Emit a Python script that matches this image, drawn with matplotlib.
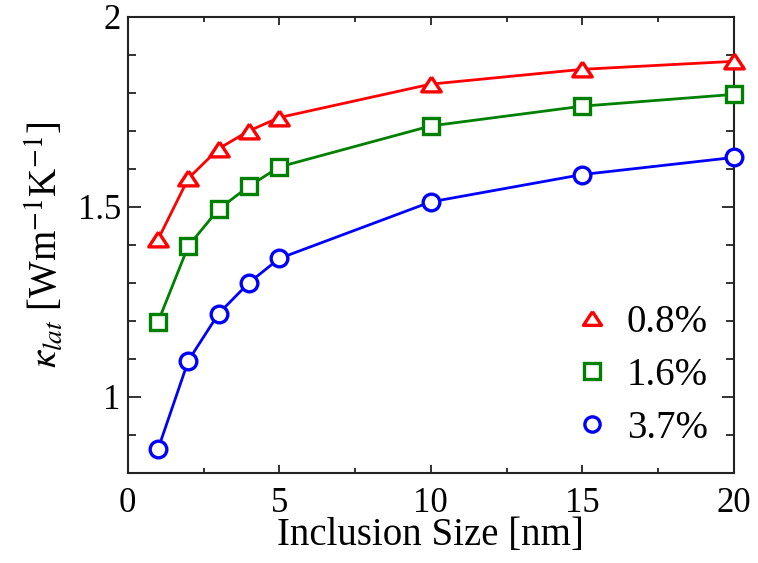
import matplotlib
matplotlib.use('Agg')
from matplotlib import pyplot as plt
from matplotlib.lines import Line2D
from matplotlib.ticker import MultipleLocator, FixedLocator, FixedFormatter

# inclusion size [nm] and lattice thermal conductivity for each volume fraction
size_nm = [1, 2, 3, 4, 5, 10, 15, 20]
kappa_08 = [1.414, 1.575, 1.653, 1.700, 1.735, 1.823, 1.862, 1.883]
kappa_16 = [1.197, 1.397, 1.494, 1.554, 1.605, 1.713, 1.765, 1.796]
kappa_37 = [0.862, 1.095, 1.219, 1.300, 1.364, 1.513, 1.585, 1.630]

labels = ['0.8%', '1.6%', '3.7%']
yticks = [1.0, 1.5, 2.0]
yticklabels = ['1', '1.5', '2']
xticks = [0, 5, 10, 15, 20]
xticklabels = ['0', '5', '10', '15', '20']

plt.rcParams['font.family'] = ['Liberation Serif', 'DejaVu Serif']
plt.rcParams['mathtext.fontset'] = 'stix'

# slightly flattened triangle
tri = [(0, 0.76), (-1, -0.76), (1, -0.76), (0, 0.76)]

styles = [
    dict(color='red', marker=tri, ms=14),
    dict(color='green', marker='s', ms=12),
    dict(color='blue', marker='o', ms=12),
]

fig = plt.figure(figsize=(7.58, 5.63), dpi=100)
ax = fig.add_axes([0.1685, 0.1604, 0.9683 - 0.1685, 0.970 - 0.1604])

for ys, st in zip([kappa_08, kappa_16, kappa_37], styles):
    ax.plot(size_nm, ys, color=st['color'], lw=2.0, marker=st['marker'],
            ms=st['ms'], mfc='white', mec=st['color'], mew=2.4, zorder=3,
            clip_on=False)

ax.set_xlim(0, 20)
ax.set_ylim(0.8, 2.0)

ax.xaxis.set_major_locator(FixedLocator(xticks))
ax.xaxis.set_major_formatter(FixedFormatter(xticklabels))
ax.xaxis.set_minor_locator(MultipleLocator(2.5))
ax.yaxis.set_major_locator(FixedLocator(yticks))
ax.yaxis.set_major_formatter(FixedFormatter(yticklabels))
ax.yaxis.set_minor_locator(MultipleLocator(0.1))

ax.tick_params(which='both', direction='in', top=True, right=True,
               labelsize=25, width=1.3, color='#222222')
ax.tick_params(axis='x', which='major', length=6, pad=10)
ax.tick_params(axis='x', which='minor', length=3.5)
ax.tick_params(axis='y', which='major', length=9, pad=5)
ax.tick_params(axis='y', which='minor', length=6)
for sp in ax.spines.values():
    sp.set_linewidth(1.5)
    sp.set_color('#222222')

ax.set_xlabel('Inclusion Size [nm]', fontsize=28, labelpad=-2)
ax.set_ylabel(r'$\kappa_{lat}$ [Wm$^{-1}$K$^{-1}$]', fontsize=28, labelpad=8)

handles = [Line2D([], [], ls='none', marker=st['marker'], ms=st['ms'] - 1,
                  mfc='white', mec=st['color'], mew=2.4) for st in styles]
ax.legend(handles, labels, loc='lower right', frameon=False, fontsize=28,
          handlelength=1.0, handletextpad=0.4, labelspacing=0.41,
          bbox_to_anchor=(1.015, -0.02))

fig.savefig('out.png', dpi=100)
